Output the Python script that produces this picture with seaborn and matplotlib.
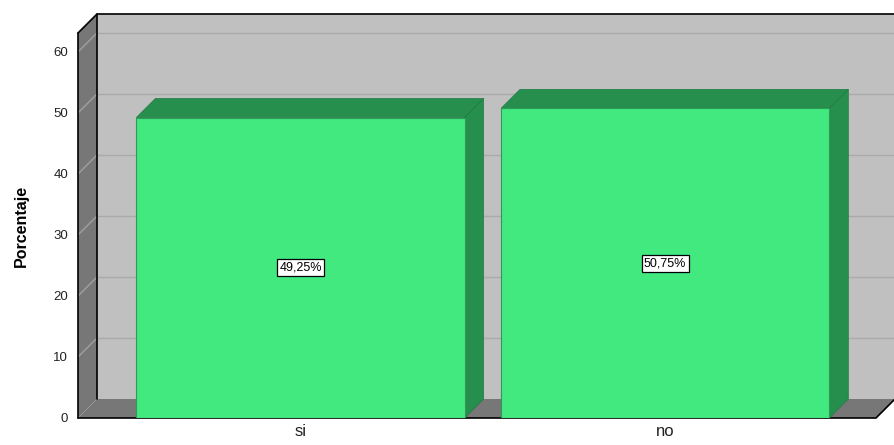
import numpy as np
import pandas as pd
import matplotlib
matplotlib.use("Agg")
import matplotlib.pyplot as plt
from matplotlib.patches import Polygon
import seaborn as sns

# Data
categorias = ["si", "no"]
porcentajes = [49.25, 50.75]
etiquetas = ["49,25%", "50,75%"]
yticks = [0, 10, 20, 30, 40, 50, 60]

df = pd.DataFrame({"respuesta": categorias, "porcentaje": porcentajes})

sns.set_style("white")
plt.rcParams["font.family"] = ["Liberation Sans", "DejaVu Sans"]

fig = plt.figure(figsize=(8.95, 4.45), dpi=100)
W, H = 895, 445
ax = fig.add_axes([78 / W, (H - 418) / H, (876 - 78) / W, (418 - 33) / H])
ax.patch.set_visible(False)

front = "#42e97f"
dark = "#268f4e"
wall = "#c0c0c0"
side = "#777777"

sns.barplot(data=df, x="respuesta", y="porcentaje", order=categorias,
            color=front, saturation=1, width=0.9, ax=ax,
            edgecolor="#2f9a55", linewidth=0.8, zorder=5)

xmin, xmax = -0.61, 1.578
ymax = 63.1
ax.set_xlim(xmin, xmax)
ax.set_ylim(0, ymax)

# depth offset of 19 px expressed in data units
ddx = 19 * (xmax - xmin) / (876 - 78)
ddy = 19 * ymax / (418 - 33)

def poly(pts, fc, ec="none", lw=0, z=1):
    ax.add_patch(Polygon(pts, closed=True, facecolor=fc, edgecolor=ec,
                         linewidth=lw, clip_on=False, zorder=z))

# back wall
poly([(xmin + ddx, ddy), (xmax + ddx, ddy), (xmax + ddx, ymax + ddy),
      (xmin + ddx, ymax + ddy)], wall, z=0.5)
# floor
poly([(xmin, 0), (xmax, 0), (xmax + ddx, ddy), (xmin + ddx, ddy)], side, z=0.6)
# left wall
poly([(xmin, 0), (xmin + ddx, ddy), (xmin + ddx, ymax + ddy), (xmin, ymax)],
     side, z=0.6)

# grid lines on back wall and left wall
for t in yticks[1:]:
    ax.plot([xmin + ddx, xmax + ddx], [t + ddy, t + ddy], color="#aaaaaa",
            lw=1, clip_on=False, zorder=0.7)
    ax.plot([xmin, xmin + ddx], [t, t + ddy], color="#a0a0a0",
            lw=1, clip_on=False, zorder=0.7)

# black outlines
k = dict(color="black", lw=1.2, clip_on=False, zorder=0.8)
ax.plot([xmin, xmin], [0, ymax], **k)
ax.plot([xmin + ddx, xmin + ddx], [ddy, ymax + ddy], **k)
ax.plot([xmin, xmin + ddx, xmax + ddx], [ymax, ymax + ddy, ymax + ddy], **k)
ax.plot([xmin, xmax, xmax + ddx], [0, 0, ddy], **k)

# 3D faces of the bars
for i, v in enumerate(porcentajes):
    x0, x1 = i - 0.45, i + 0.45
    poly([(x0, v), (x1, v), (x1 + ddx, v + ddy), (x0 + ddx, v + ddy)], dark,
         ec="#1f7a42", lw=0.5, z=4)
    poly([(x1, 0), (x1 + ddx, ddy), (x1 + ddx, v + ddy), (x1, v)], dark,
         ec="#1f7a42", lw=0.5, z=4)
    ax.text(i, v / 2, etiquetas[i], ha="center", va="center", fontsize=9,
            color="black", zorder=6,
            bbox=dict(boxstyle="square,pad=0.2", fc="white", ec="black", lw=0.9))

ax.set_yticks(yticks)
ax.set_yticklabels([str(t) for t in yticks], fontsize=9.5, color="#222222")
ax.tick_params(axis="y", length=0, pad=7)
ax.tick_params(axis="x", length=0, pad=4, labelsize=12, labelcolor="#222222")
ax.set_xlabel("")
ax.set_ylabel("Porcentaje", fontsize=11.5, fontweight="bold", labelpad=18,
              color="black")
sns.despine(ax=ax, left=True, bottom=True)

fig.savefig("out.png", dpi=100)
